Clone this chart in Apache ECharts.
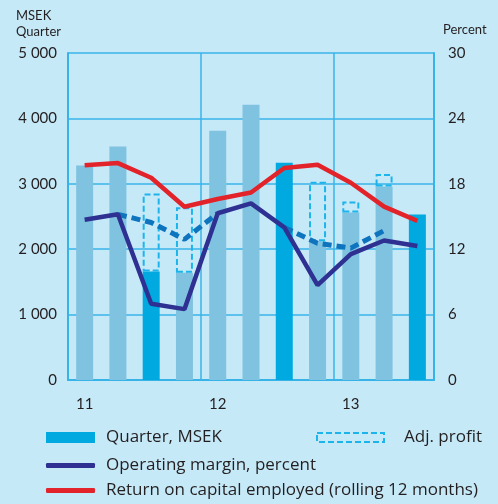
<!DOCTYPE html>
<html lang="en">

<head>
    <meta charset="UTF-8">
    <title>Operating profit</title>
    <style>
        html,
        body {
            margin: 0;
            padding: 0;
            width: 100%;
            height: 100%;
            background-color: #c6e9f8;
        }

        #chart {
            width: 498px;
            height: 504px;
        }
    </style>
</head>

<body>
    <div id="chart"></div>
    <script src="https://cdn.jsdelivr.net/npm/echarts@6/dist/echarts.min.js"></script>
    <script>
        // quarters Q1 2011 .. Q3 2013
        const quarters = ['Q1 11', 'Q2 11', 'Q3 11', 'Q4 11', 'Q1 12', 'Q2 12', 'Q3 12', 'Q4 12', 'Q1 13', 'Q2 13', 'Q3 13']
        const yearLabels = ['11', '', '', '', '12', '', '', '', '13', '', '']

        // MSEK
        const quarterProfit = [3280, 3570, 1660, 1640, 3810, 4210, 3320, 2120, 2560, 2960, 2530]
        const adjProfit = [null, null, 2850, 2640, null, null, null, 3030, 2730, 3150, null]

        // percent
        const operatingMargin = [14.7, 15.2, 7.0, 6.5, 15.3, 16.2, 14.0, 8.7, 11.55, 12.8, 12.3]
        const adjMargin = [null, 15.2, 14.45, 12.9, 15.3, null, 14.0, 12.55, 12.1, 13.7, null]
        const returnOnCapital = [19.7, 19.9, 18.55, 15.9, 16.6, 17.2, 19.45, 19.75, 18.1, 15.9, 14.6]

        const leftTicks = { min: 0, max: 5000, interval: 1000 }
        const rightTicks = { min: 0, max: 30, interval: 6 }

        const FONT = 'Lato'
        const TEXT = '#231f20'
        const GRID = '#38b3e8'
        const ADJ = '#1db4ec'

        const fmtThousands = v => String(v).replace(/\B(?=(\d{3})+(?!\d))/g, ' ')

        const legendText = { fontFamily: 'Open Sans', fontSize: 17, color: TEXT }

        const chart = echarts.init(document.getElementById('chart'))

        chart.setOption({
            backgroundColor: '#c6e9f8',
            animation: false,
            textStyle: { fontFamily: FONT, color: TEXT },
            grid: { left: 68, right: 64, top: 53, bottom: 124 },
            graphic: [
                { type: 'text', left: 16, top: 8, style: { text: 'MSEK\nQuarter', font: '13px Lato', fill: TEXT, lineHeight: 16 } },
                { type: 'text', left: 443, top: 23, style: { text: 'Percent', font: '13px Lato', fill: TEXT } }
            ],
            xAxis: [{
                type: 'category',
                data: quarters,
                axisLine: { lineStyle: { color: GRID, width: 2 } },
                axisTick: { show: false },
                axisLabel: {
                    interval: 0,
                    margin: 17,
                    fontSize: 15,
                    color: TEXT,
                    formatter: (v, i) => yearLabels[i]
                },
                splitLine: { show: false }
            }, {
                // year separators
                type: 'value',
                min: 0,
                max: quarters.length,
                interval: 4,
                position: 'bottom',
                axisLine: { show: false },
                axisTick: { show: false },
                axisLabel: { show: false },
                splitLine: { show: true, lineStyle: { color: GRID, width: 1.5 } }
            }],
            yAxis: [{
                type: 'value',
                ...leftTicks,
                axisLine: { show: true, lineStyle: { color: GRID, width: 2 } },
                axisTick: { show: false },
                axisLabel: { margin: 11, fontSize: 15, color: TEXT, formatter: fmtThousands },
                splitLine: { lineStyle: { color: GRID, width: 1.5 } }
            }, {
                type: 'value',
                ...rightTicks,
                position: 'right',
                axisLine: { show: true, lineStyle: { color: GRID, width: 2 } },
                axisTick: { show: false },
                axisLabel: { margin: 14, fontSize: 15, color: TEXT },
                splitLine: { show: false }
            }],
            legend: [{
                data: ['Quarter, MSEK'],
                left: 46, top: 429,
                padding: 0,
                itemWidth: 49, itemHeight: 11,
                icon: 'rect',
                selectedMode: false,
                textStyle: { ...legendText, padding: [0, 0, 0, 6] }
            }, {
                data: [{
                    name: 'Adj. profit',
                    icon: 'rect',
                    itemStyle: { color: 'transparent', borderColor: ADJ, borderWidth: 2, borderType: [6, 3] }
                }],
                left: 316, top: 429,
                padding: 0,
                itemWidth: 67, itemHeight: 9,
                selectedMode: false,
                textStyle: { ...legendText, padding: [0, 0, 0, 15] }
            }, {
                data: ['Operating margin, percent'],
                left: 46, top: 457,
                padding: 0,
                itemWidth: 49, itemHeight: 5,
                icon: 'roundRect',
                selectedMode: false,
                textStyle: { ...legendText, padding: [0, 0, 0, 6] }
            }, {
                data: ['Return on capital employed (rolling 12 months)'],
                left: 46, top: 482,
                padding: 0,
                itemWidth: 49, itemHeight: 5,
                icon: 'roundRect',
                selectedMode: false,
                textStyle: { ...legendText, padding: [0, 0, 0, 6] }
            }],
            series: [{
                name: 'Quarter, MSEK',
                type: 'bar',
                stack: 'profit',
                barWidth: 17,
                itemStyle: { color: '#00a9e0' },
                data: quarterProfit.map((v, i) => ({
                    value: v,
                    itemStyle: { color: i % 4 === 2 ? '#00a9e0' : '#80c3e0' }
                }))
            }, {
                name: 'Adj. profit',
                type: 'bar',
                stack: 'profit',
                barWidth: 17,
                itemStyle: { color: 'transparent', borderColor: ADJ, borderWidth: 2, borderType: [6, 3] },
                data: adjProfit.map((v, i) => v == null ? '-' : v - quarterProfit[i])
            }, {
                name: 'Adj. margin',
                type: 'line',
                yAxisIndex: 1,
                symbol: 'none',
                connectNulls: false,
                lineStyle: { color: '#0e74bd', width: 5, type: [9, 5] },
                data: adjMargin
            }, {
                name: 'Operating margin, percent',
                type: 'line',
                yAxisIndex: 1,
                symbol: 'none',
                itemStyle: { color: '#2e3192' },
                lineStyle: { color: '#2e3192', width: 4.5 },
                data: operatingMargin
            }, {
                name: 'Return on capital employed (rolling 12 months)',
                type: 'line',
                yAxisIndex: 1,
                symbol: 'none',
                itemStyle: { color: '#e2232a' },
                lineStyle: { color: '#e2232a', width: 4.5 },
                data: returnOnCapital
            }]
        })
    </script>
</body>

</html>
